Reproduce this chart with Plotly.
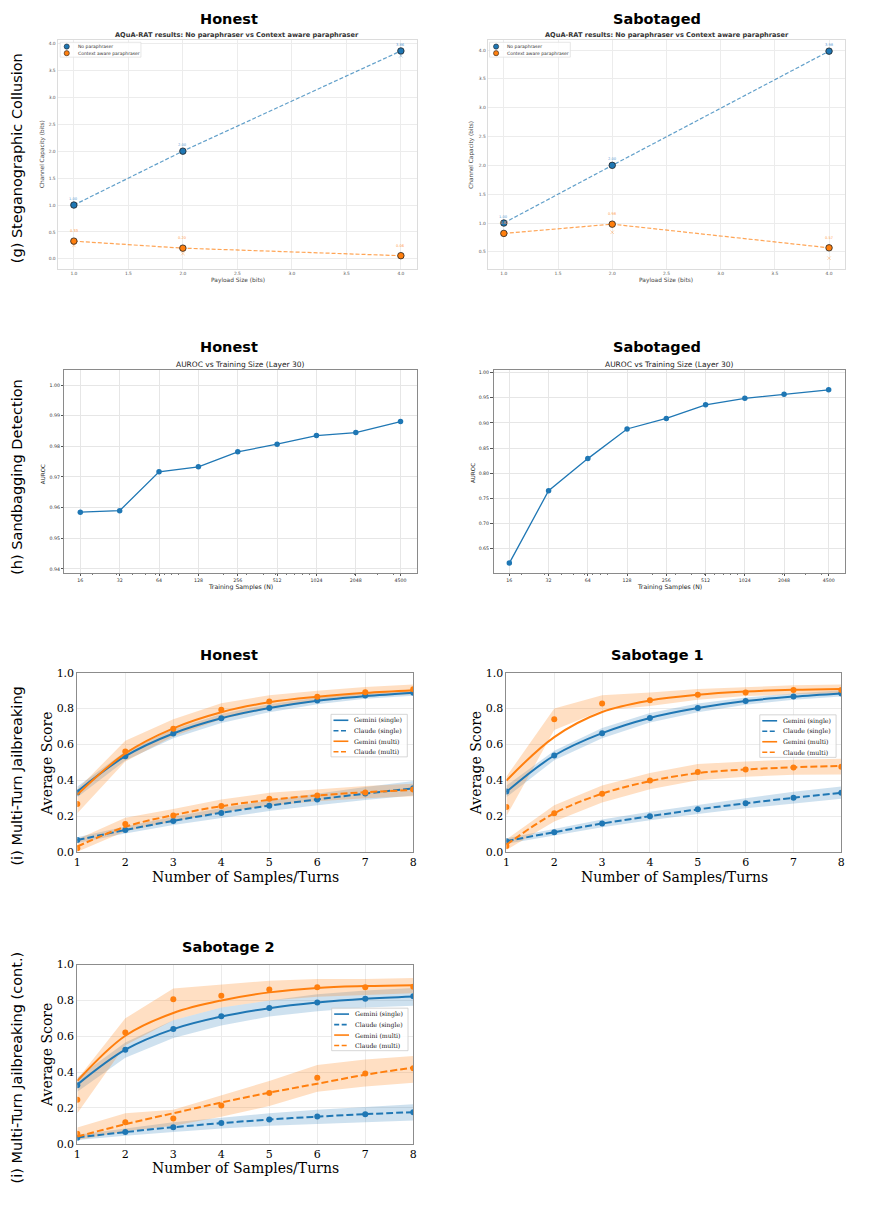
import math
import plotly.graph_objects as go

W, H = 882, 1215
BLUE = "#1f77b4"
ORANGE = "#ff7f0e"

# ---------------- (g) Steganographic collusion ----------------
payload = [1.0, 2.0, 4.0]
g_hon_nopara = [1.00, 2.00, 3.86]
g_hon_ctx = [0.33, 0.20, 0.06]
g_sab_nopara = [1.00, 2.00, 3.98]
g_sab_ctx = [0.82, 0.98, 0.57]
# faint per-run markers
g_hon_nopara_runs = [1.00, 2.00, 3.77]
g_hon_ctx_runs = [0.25, 0.10, 0.06]
g_sab_nopara_runs = [1.00, 2.00, 3.98]
g_sab_ctx_runs = [1.00, 0.84, 0.39]

# ---------------- (h) Sandbagging detection ----------------
h_samples = [16, 32, 64, 128, 256, 512, 1024, 2048, 4500]
h_tick_labels = ["16", "32", "64", "128", "256", "512", "1024", "2048", "4500"]
h_hon_auroc = [0.9585, 0.9590, 0.9717, 0.9733, 0.9782, 0.9807, 0.9835, 0.9845, 0.9881]
h_sab_auroc = [0.621, 0.765, 0.829, 0.888, 0.909, 0.936, 0.949, 0.957, 0.966]

# ---------------- (i) Multi-turn jailbreaking ----------------
turns = [1, 2, 3, 4, 5, 6, 7, 8]

hon_gem_single_pts = [0.331, 0.534, 0.661, 0.746, 0.803, 0.845, 0.873, 0.889]
hon_gem_single_fit = [0.337, 0.534, 0.661, 0.746, 0.803, 0.844, 0.870, 0.889]
hon_gem_single_lo = [0.305, 0.510, 0.635, 0.720, 0.780, 0.825, 0.855, 0.872]
hon_gem_single_hi = [0.365, 0.560, 0.685, 0.770, 0.825, 0.862, 0.888, 0.905]
hon_cla_single_pts = [0.066, 0.122, 0.173, 0.217, 0.258, 0.293, 0.326, 0.355]
hon_cla_single_fit = [0.066, 0.122, 0.173, 0.218, 0.258, 0.293, 0.325, 0.355]
hon_cla_single_lo = [0.050, 0.103, 0.150, 0.190, 0.228, 0.260, 0.290, 0.315]
hon_cla_single_hi = [0.082, 0.142, 0.196, 0.245, 0.288, 0.326, 0.362, 0.395]
hon_gem_multi_pts = [0.267, 0.560, 0.687, 0.794, 0.840, 0.866, 0.891, 0.908]
hon_gem_multi_fit = [0.320, 0.550, 0.690, 0.780, 0.835, 0.866, 0.888, 0.903]
hon_gem_multi_lo = [0.215, 0.505, 0.645, 0.740, 0.800, 0.840, 0.868, 0.880]
hon_gem_multi_hi = [0.350, 0.620, 0.740, 0.830, 0.875, 0.900, 0.920, 0.935]
hon_cla_multi_pts = [0.020, 0.155, 0.203, 0.256, 0.296, 0.315, 0.331, 0.348]
hon_cla_multi_fit = [0.030, 0.140, 0.205, 0.255, 0.290, 0.315, 0.333, 0.345]
hon_cla_multi_lo = [0.000, 0.115, 0.170, 0.220, 0.258, 0.282, 0.300, 0.310]
hon_cla_multi_hi = [0.070, 0.190, 0.240, 0.292, 0.330, 0.350, 0.368, 0.380]

s1_gem_single_pts = [0.337, 0.538, 0.663, 0.748, 0.803, 0.842, 0.867, 0.884]
s1_gem_single_fit = [0.335, 0.538, 0.663, 0.748, 0.803, 0.842, 0.867, 0.885]
s1_gem_single_lo = [0.305, 0.512, 0.635, 0.722, 0.780, 0.822, 0.850, 0.868]
s1_gem_single_hi = [0.370, 0.565, 0.692, 0.775, 0.828, 0.862, 0.885, 0.902]
s1_cla_single_pts = [0.059, 0.110, 0.158, 0.199, 0.238, 0.271, 0.302, 0.330]
s1_cla_single_fit = [0.060, 0.110, 0.158, 0.199, 0.237, 0.271, 0.302, 0.330]
s1_cla_single_lo = [0.045, 0.092, 0.137, 0.176, 0.212, 0.243, 0.272, 0.297]
s1_cla_single_hi = [0.075, 0.128, 0.180, 0.224, 0.263, 0.300, 0.335, 0.365]
s1_gem_multi_pts = [0.250, 0.740, 0.829, 0.847, 0.878, 0.890, 0.904, 0.904]
s1_gem_multi_fit = [0.398, 0.641, 0.781, 0.845, 0.877, 0.895, 0.905, 0.910]
s1_gem_multi_lo = [0.200, 0.680, 0.790, 0.815, 0.850, 0.870, 0.880, 0.885]
s1_gem_multi_hi = [0.420, 0.800, 0.875, 0.890, 0.910, 0.920, 0.930, 0.935]
s1_cla_multi_pts = [0.033, 0.215, 0.324, 0.398, 0.446, 0.460, 0.471, 0.475]
s1_cla_multi_fit = [0.040, 0.215, 0.325, 0.395, 0.440, 0.460, 0.472, 0.480]
s1_cla_multi_lo = [0.010, 0.170, 0.275, 0.350, 0.400, 0.420, 0.430, 0.432]
s1_cla_multi_hi = [0.070, 0.260, 0.370, 0.440, 0.490, 0.505, 0.515, 0.520]

s2_gem_single_pts = [0.327, 0.525, 0.640, 0.712, 0.758, 0.789, 0.810, 0.824]
s2_gem_single_fit = [0.330, 0.525, 0.640, 0.710, 0.757, 0.788, 0.809, 0.822]
s2_gem_single_lo = [0.290, 0.480, 0.590, 0.660, 0.710, 0.740, 0.760, 0.770]
s2_gem_single_hi = [0.370, 0.565, 0.690, 0.760, 0.800, 0.835, 0.855, 0.870]
s2_cla_single_pts = [0.033, 0.065, 0.092, 0.115, 0.135, 0.152, 0.165, 0.176]
s2_cla_single_fit = [0.035, 0.065, 0.092, 0.115, 0.135, 0.151, 0.165, 0.176]
s2_cla_single_lo = [0.020, 0.045, 0.065, 0.085, 0.100, 0.110, 0.120, 0.130]
s2_cla_single_hi = [0.050, 0.085, 0.120, 0.145, 0.170, 0.190, 0.205, 0.220]
s2_gem_multi_pts = [0.246, 0.621, 0.806, 0.826, 0.861, 0.874, 0.874, 0.876]
s2_gem_multi_fit = [0.351, 0.603, 0.730, 0.800, 0.845, 0.870, 0.880, 0.885]
s2_gem_multi_lo = [0.170, 0.550, 0.690, 0.760, 0.800, 0.820, 0.830, 0.840]
s2_gem_multi_hi = [0.360, 0.700, 0.867, 0.890, 0.910, 0.920, 0.920, 0.925]
s2_cla_multi_pts = [0.055, 0.120, 0.140, 0.213, 0.283, 0.368, 0.392, 0.421]
s2_cla_multi_fit = [0.040, 0.109, 0.170, 0.230, 0.285, 0.335, 0.385, 0.425]
s2_cla_multi_lo = [0.020, 0.070, 0.100, 0.150, 0.210, 0.290, 0.320, 0.340]
s2_cla_multi_hi = [0.090, 0.170, 0.190, 0.270, 0.350, 0.440, 0.470, 0.490]

jb_legend_names = ["Gemini (single)", "Claude (single)", "Gemini (multi)", "Claude (multi)"]
g_legend_names = ["No paraphraser", "Context aware paraphraser"]

# ---------------- helpers ----------------
def px(x):
    return x / W


def py(y):
    return 1 - y / H


shapes = []
annotations = []
layout_axes = {}


def ann(text, x, y, size, family="DejaVu Sans", color="black", bold=False,
        angle=0, xanchor="center", yanchor="middle"):
    annotations.append(dict(
        text=f"<b>{text}</b>" if bold else text,
        x=px(x), y=py(y), xref="paper", yref="paper", showarrow=False,
        font=dict(size=size, family=family, color=color),
        textangle=angle, xanchor=xanchor, yanchor=yanchor))


def set_axes(i, xbox, ybox, xcfg, ycfg):
    sx = "" if i == 1 else str(i)
    xcfg = dict(xcfg)
    ycfg = dict(ycfg)
    xcfg.update(domain=[px(xbox[0]), px(xbox[1])], anchor="y" + sx)
    ycfg.update(domain=[py(ybox[1]), py(ybox[0])], anchor="x" + sx)
    layout_axes["xaxis" + sx] = xcfg
    layout_axes["yaxis" + sx] = ycfg
    return "x" + sx, "y" + sx


fig = go.Figure()

# ================= (g) panels =================
g_axis_common = dict(showgrid=True, gridcolor="#ececec", gridwidth=0.8,
                     showline=True, mirror=True, linecolor="#dcdcdc", linewidth=1,
                     zeroline=False, ticks="",
                     tickfont=dict(size=4.4, family="DejaVu Sans", color="#555555"))

g_panels = [
    dict(idx=1, xbox=(54, 417), ybox=(34, 266), yrange=[-0.19, 4.07],
         nop=g_hon_nopara, ctx=g_hon_ctx, nop_r=g_hon_nopara_runs, ctx_r=g_hon_ctx_runs,
         title_x=227, sub_x=235.5, ylab_x=39, xlab_x=235.7, leg=(56.7, 36.7)),
    dict(idx=2, xbox=(488, 849), ybox=(34, 266), yrange=[0.20, 4.18],
         nop=g_sab_nopara, ctx=g_sab_ctx, nop_r=g_sab_nopara_runs, ctx_r=g_sab_ctx_runs,
         title_x=659, sub_x=668.8, ylab_x=471.7, xlab_x=668.3, leg=(490, 36.7)),
]
for p in g_panels:
    xa, ya = set_axes(p["idx"], p["xbox"], p["ybox"],
                      dict(g_axis_common, range=[0.85, 4.15], tick0=1, dtick=0.5, tickformat=".1f"),
                      dict(g_axis_common, range=p["yrange"], tick0=0, dtick=0.5, tickformat=".1f"))
    for runs, col in ((p["nop_r"], "rgba(31,119,180,0.35)"), (p["ctx_r"], "rgba(255,127,14,0.35)")):
        fig.add_trace(go.Scatter(x=payload, y=runs, mode="markers", xaxis=xa, yaxis=ya,
                                 marker=dict(symbol="x-thin", size=3.5, line=dict(color=col, width=0.9)),
                                 showlegend=False, hoverinfo="skip"))
    for vals, col, lcol, name in ((p["nop"], BLUE, "rgba(31,119,180,0.7)", g_legend_names[0]),
                                  (p["ctx"], ORANGE, "rgba(255,127,14,0.7)", g_legend_names[1])):
        fig.add_trace(go.Scatter(x=payload, y=vals, mode="lines+markers", xaxis=xa, yaxis=ya,
                                 name=name, showlegend=False,
                                 line=dict(color=lcol, width=1.2, dash="4px,2px"),
                                 marker=dict(size=6.5, color=col, line=dict(color="#222222", width=0.8))))
    for vals, col, shift in ((p["nop"], "#5d9bd1", 6), (p["ctx"], "#ffa04d", 10)):
        for xv, yv in zip(payload, vals):
            annotations.append(dict(text=f"{yv:.2f}", x=xv, y=yv, xref=xa, yref=ya,
                                    showarrow=False, yshift=shift,
                                    font=dict(size=3.6, family="DejaVu Sans", color=col)))
    ann("Honest" if p["idx"] == 1 else "Sabotaged", p["title_x"], 13, 14.5, bold=True)
    ann("AQuA-RAT results: No paraphraser vs Context aware paraphraser", p["sub_x"], 29.3, 6.6,
        color="#333333", bold=True)
    ann("Channel Capacity (bits)", p["ylab_x"], 150, 5.8, color="#444444", angle=-90)
    ann("Payload Size (bits)", p["xlab_x"], 277.7, 5.9, color="#444444")
    # legend
    lx, ly = p["leg"]
    shapes.append(dict(type="rect", xref="paper", yref="paper", x0=px(lx), x1=px(lx + 81.5),
                       y0=py(ly + 15), y1=py(ly), line=dict(color="#dddddd", width=0.7),
                       fillcolor="rgba(255,255,255,0.85)", layer="above"))
    for k, (name, col) in enumerate(zip(g_legend_names, [BLUE, ORANGE])):
        cy = ly + 4.3 + 6.7 * k
        cx = lx + 6.6
        shapes.append(dict(type="circle", xref="paper", yref="paper", x0=px(cx - 2.6), x1=px(cx + 2.6),
                           y0=py(cy + 2.6), y1=py(cy - 2.6), fillcolor=col,
                           line=dict(color="#222222", width=0.6), layer="above"))
        ann(name, lx + 15.6, cy, 4.5, color="#333333", xanchor="left")

# ================= (h) panels =================
L2 = math.log10(2)
h_minor = [20, 30, 40, 50, 60, 70, 80, 90, 200, 300, 400, 500, 600, 700, 800, 900,
           2000, 3000, 4000]
h_axis_common = dict(showgrid=True, gridcolor="#e6e6e6", gridwidth=0.8,
                     showline=True, mirror=True, linecolor="#8a8a8a", linewidth=1,
                     zeroline=False, ticks="outside", ticklen=2.5, tickcolor="#555555",
                     tickfont=dict(size=4.7, family="DejaVu Sans", color="#333333"))
h_panels = [
    dict(idx=3, xbox=(61, 417), ybox=(368, 573), yrange=[0.9387, 1.0049], tick0=0.94, dtick=0.01,
         vals=h_hon_auroc, title="Honest", title_x=226.7, sub_x=238.7, ylab_x=39.3, ylab_y=473.3,
         xlab_x=238.7),
    dict(idx=4, xbox=(494, 849), ybox=(368, 573), yrange=[0.6015, 1.0053], tick0=0.65, dtick=0.05,
         vals=h_sab_auroc, title="Sabotaged", title_x=659.2, sub_x=671.3, ylab_x=472.7, ylab_y=471.7,
         xlab_x=671.3),
]
for p in h_panels:
    xa, ya = set_axes(p["idx"], p["xbox"], p["ybox"],
                      dict(h_axis_common, type="log", range=[3.597 * L2, 12.56 * L2],
                           tickmode="array", tickvals=h_samples, ticktext=h_tick_labels,
                           minor=dict(tickmode="array", tickvals=h_minor, ticks="outside",
                                      ticklen=1.5, tickcolor="#777777", showgrid=False)),
                      dict(h_axis_common, range=p["yrange"], tick0=p["tick0"], dtick=p["dtick"],
                           tickformat=".2f"))
    fig.add_trace(go.Scatter(x=h_samples, y=p["vals"], mode="lines+markers", xaxis=xa, yaxis=ya,
                             line=dict(color=BLUE, width=1.3), marker=dict(size=5.5, color=BLUE),
                             showlegend=False))
    ann(p["title"], p["title_x"], 345, 14.5, bold=True)
    ann("AUROC vs Training Size (Layer 30)", p["sub_x"], 362.3, 7.5, color="#222222")
    ann("AUROC", p["ylab_x"], p["ylab_y"], 5.6, color="#222222", angle=-90)
    ann("Training Samples (N)", p["xlab_x"], 587, 6.2, color="#222222")

# ================= (i) panels =================
i_axis_common = dict(showgrid=True, gridcolor="#ebebeb", gridwidth=0.8,
                     showline=True, mirror=True, linecolor="#8c8c8c", linewidth=1,
                     zeroline=False, ticks="",
                     tickfont=dict(size=11, family="DejaVu Serif", color="black"))

i_panels = [
    dict(idx=5, xbox=(74, 413), ybox=(674, 855), title="Honest", title_x=226.7, title_y=655.7,
         xlab=(243.8, 880), ylab=(42.7, 765.7), leg=(330, 716),
         series=[
             (hon_gem_single_pts, hon_gem_single_fit, hon_gem_single_lo, hon_gem_single_hi, BLUE, "solid"),
             (hon_cla_single_pts, hon_cla_single_fit, hon_cla_single_lo, hon_cla_single_hi, BLUE, "7px,3px"),
             (hon_gem_multi_pts, hon_gem_multi_fit, hon_gem_multi_lo, hon_gem_multi_hi, ORANGE, "solid"),
             (hon_cla_multi_pts, hon_cla_multi_fit, hon_cla_multi_lo, hon_cla_multi_hi, ORANGE, "7px,3px"),
         ]),
    dict(idx=6, xbox=(507, 845), ybox=(674, 855), title="Sabotage 1", title_x=659.5, title_y=655.7,
         xlab=(676.3, 880), ylab=(476, 765.7), leg=(762.7, 716.5),
         series=[
             (s1_gem_single_pts, s1_gem_single_fit, s1_gem_single_lo, s1_gem_single_hi, BLUE, "solid"),
             (s1_cla_single_pts, s1_cla_single_fit, s1_cla_single_lo, s1_cla_single_hi, BLUE, "7px,3px"),
             (s1_gem_multi_pts, s1_gem_multi_fit, s1_gem_multi_lo, s1_gem_multi_hi, ORANGE, "solid"),
             (s1_cla_multi_pts, s1_cla_multi_fit, s1_cla_multi_lo, s1_cla_multi_hi, ORANGE, "7px,3px"),
         ]),
    dict(idx=7, xbox=(74, 413), ybox=(969, 1150), title="Sabotage 2", title_x=226.7, title_y=950.7,
         xlab=(243.8, 1175), ylab=(42.7, 1060), leg=(330.7, 1013),
         series=[
             (s2_gem_single_pts, s2_gem_single_fit, s2_gem_single_lo, s2_gem_single_hi, BLUE, "solid"),
             (s2_cla_single_pts, s2_cla_single_fit, s2_cla_single_lo, s2_cla_single_hi, BLUE, "7px,3px"),
             (s2_gem_multi_pts, s2_gem_multi_fit, s2_gem_multi_lo, s2_gem_multi_hi, ORANGE, "solid"),
             (s2_cla_multi_pts, s2_cla_multi_fit, s2_cla_multi_lo, s2_cla_multi_hi, ORANGE, "7px,3px"),
         ]),
]

band_fill = {BLUE: "rgba(31,119,180,0.22)", ORANGE: "rgba(255,127,14,0.25)"}

for p in i_panels:
    xa, ya = set_axes(p["idx"], p["xbox"], p["ybox"],
                      dict(i_axis_common, range=[1, 8], tick0=1, dtick=1),
                      dict(i_axis_common, range=[0, 1], tick0=0, dtick=0.2, tickformat=".1f"))
    # bands
    for pts, fit, lo, hi, col, dash in p["series"]:
        fig.add_trace(go.Scatter(x=turns, y=hi, mode="lines", xaxis=xa, yaxis=ya,
                                 line=dict(width=0, color=col), showlegend=False, hoverinfo="skip"))
        fig.add_trace(go.Scatter(x=turns, y=lo, mode="lines", xaxis=xa, yaxis=ya,
                                 line=dict(width=0, color=col), fill="tonexty",
                                 fillcolor=band_fill[col], showlegend=False, hoverinfo="skip"))
    # fits and points
    for (pts, fit, lo, hi, col, dash), name in zip(p["series"], jb_legend_names):
        fig.add_trace(go.Scatter(x=turns, y=fit, mode="lines", xaxis=xa, yaxis=ya, name=name,
                                 line=dict(color=col, width=2, dash=dash, shape="spline", smoothing=1.0),
                                 showlegend=False))
        fig.add_trace(go.Scatter(x=turns, y=pts, mode="markers", xaxis=xa, yaxis=ya,
                                 marker=dict(size=6, color=col), showlegend=False))
    ann(p["title"], p["title_x"], p["title_y"], 14.5, bold=True)
    ann("Number of Samples/Turns", p["xlab"][0], p["xlab"][1], 14, family="DejaVu Serif")
    ann("Average Score", p["ylab"][0], p["ylab"][1], 14, family="DejaVu Serif", angle=-90)
    # legend
    lx, ly = p["leg"]
    shapes.append(dict(type="rect", xref="paper", yref="paper", x0=px(lx), x1=px(lx + 77),
                       y0=py(ly + 43), y1=py(ly), line=dict(color="#cccccc", width=0.8),
                       fillcolor="rgba(255,255,255,0.85)", layer="above"))
    for k, ((pts, fit, lo, hi, col, dash), name) in enumerate(zip(p["series"], jb_legend_names)):
        yy = ly + 6 + 10.6 * k
        shapes.append(dict(type="line", xref="paper", yref="paper", x0=px(lx + 2.5), x1=px(lx + 17.5),
                           y0=py(yy), y1=py(yy),
                           line=dict(color=col, width=1.6, dash="solid" if dash == "solid" else "5px,2.5px"),
                           layer="above"))
        ann(name, lx + 21.5, yy, 6.2, family="DejaVu Serif", color="#222222", xanchor="left")

# ================= row labels =================
ann("(g) Steganographic Collusion", 13, 154, 14.5, angle=-90)
ann("(h) Sandbagging Detection", 13, 476, 14.5, angle=-90)
ann("(i) Multi-Turn Jailbreaking", 13, 778, 14.5, angle=-90)
ann("(i) Multi-Turn Jailbreaking (cont.)", 13, 1073, 14.5, angle=-90)

fig.update_layout(
    width=W, height=H, autosize=False,
    margin=dict(l=0, r=0, t=0, b=0),
    paper_bgcolor="white", plot_bgcolor="white",
    showlegend=False,
    shapes=shapes, annotations=annotations,
    **layout_axes,
)

fig.write_html("out.html")
